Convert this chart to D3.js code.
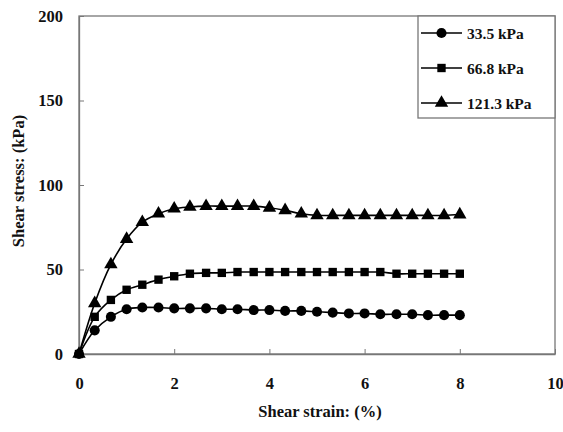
<!doctype html>
<html>
  <head>
    <script src="https://d3js.org/d3.v7.min.js"></script>
    <style>
      body { margin: 0; background: #fff; }
      text { font-family: "Liberation Serif", "Times New Roman", serif; font-weight: bold; fill: #111; }
    </style>
  </head>
  <body>
    <svg id="chart" width="563" height="432"></svg>
    <script>
      /* shear strain (%) - one reading every 1/3 % */
      var strain = [0, 0.33, 0.67, 1, 1.33, 1.67, 2, 2.33, 2.67, 3, 3.33, 3.67, 4,
                    4.33, 4.67, 5, 5.33, 5.67, 6, 6.33, 6.67, 7, 7.33, 7.67, 8];
      /* shear stress (kPa) for each normal stress */
      var stress335 = [0, 14, 22, 26.5, 27.5, 27.5, 27, 27, 27, 26.5, 26.5, 26, 26,
                       25.5, 25.5, 25, 24.5, 24, 24, 23.5, 23.5, 23.5, 23, 23, 23];
      var stress668 = [0, 22, 32, 38, 41, 44, 46, 47.5, 48, 48, 48.5, 48.5, 48.5,
                       48.5, 48.5, 48.5, 48.5, 48.5, 48.5, 48.5, 47.5, 47.5, 47.5, 47.5, 47.5];
      var stress1213 = [0, 30, 53, 68, 78, 83, 86, 87, 87.5, 87.5, 87.5, 87.5, 86.5,
                        85, 83, 82, 82, 82, 82, 82, 82, 82, 82, 82, 82.5];
      var seriesNames = ["33.5 kPa", "66.8 kPa", "121.3 kPa"];
      var xTicks = [0, 2, 4, 6, 8, 10];
      var yTicks = [0, 50, 100, 150, 200];

      var series = [
        { name: seriesNames[0], values: stress335, symbol: d3.symbolCircle, size: 80 },
        { name: seriesNames[1], values: stress668, symbol: d3.symbolSquare, size: 70 },
        { name: seriesNames[2], values: stress1213, symbol: d3.symbolTriangle, size: 78 }
      ];

      var svg = d3.select("#chart");
      var plotLeft = 79, plotRight = 555, plotTop = 16, plotBottom = 354;

      var x = d3.scaleLinear().domain([0, 10]).range([plotLeft, plotRight]);
      var y = d3.scaleLinear().domain([0, 200]).range([plotBottom, plotTop]);

      /* plot frame */
      svg.append("rect")
        .attr("x", plotLeft).attr("y", plotTop)
        .attr("width", plotRight - plotLeft).attr("height", plotBottom - plotTop)
        .attr("fill", "none").attr("stroke", "#777").attr("stroke-width", 1.3);

      /* axes with inward ticks */
      var xAxis = svg.append("g")
        .attr("transform", "translate(0," + plotBottom + ")")
        .call(d3.axisBottom(x).tickValues(xTicks).tickSizeInner(-5).tickSizeOuter(0).tickPadding(23));
      var yAxis = svg.append("g")
        .attr("transform", "translate(" + plotLeft + ",0)")
        .call(d3.axisLeft(y).tickValues(yTicks).tickSizeInner(-5).tickSizeOuter(0).tickPadding(16));
      [xAxis, yAxis].forEach(function (g) {
        g.select(".domain").attr("stroke", "#777").attr("stroke-width", 1.3);
        g.selectAll(".tick line").attr("stroke", "#777");
        g.selectAll(".tick text")
          .style("font-family", "'Liberation Serif', serif")
          .style("font-weight", "bold")
          .style("font-size", "16.5px")
          .attr("fill", "#111");
      });

      svg.append("text")
        .attr("x", 320).attr("y", 417)
        .attr("text-anchor", "middle").style("font-size", "16.5px")
        .text("Shear strain: (%)");
      svg.append("text")
        .attr("transform", "translate(24,181) rotate(-90)")
        .attr("text-anchor", "middle").style("font-size", "16.5px")
        .text("Shear stress: (kPa)");

      /* lines and markers */
      var line = d3.line()
        .x(function (d, i) { return x(strain[i]); })
        .y(function (d) { return y(d); })
        .curve(d3.curveCatmullRom);

      series.forEach(function (s) {
        svg.append("path")
          .datum(s.values)
          .attr("d", line)
          .attr("fill", "none").attr("stroke", "#000").attr("stroke-width", 1.6);
        svg.selectAll(null)
          .data(s.values)
          .enter()
          .append("path")
          .attr("transform", function (d, i) { return "translate(" + x(strain[i]) + "," + y(d) + ")"; })
          .attr("d", d3.symbol().type(s.symbol).size(s.size))
          .attr("fill", "#000");
      });

      /* legend */
      var legend = svg.append("g");
      legend.append("rect")
        .attr("x", 418).attr("y", plotTop).attr("width", plotRight - 418).attr("height", 102)
        .attr("fill", "#fff").attr("stroke", "#777").attr("stroke-width", 1.3);
      series.forEach(function (s, i) {
        var ly = 33 + i * 35;
        legend.append("line")
          .attr("x1", 421).attr("x2", 462).attr("y1", ly).attr("y2", ly)
          .attr("stroke", "#000").attr("stroke-width", 1.6);
        legend.append("path")
          .attr("transform", "translate(441.5," + ly + ")")
          .attr("d", d3.symbol().type(s.symbol).size(s.size))
          .attr("fill", "#000");
        legend.append("text")
          .attr("x", 467).attr("y", ly + 5.5)
          .style("font-size", "15.5px")
          .text(s.name);
      });
    </script>
  </body>
</html>
